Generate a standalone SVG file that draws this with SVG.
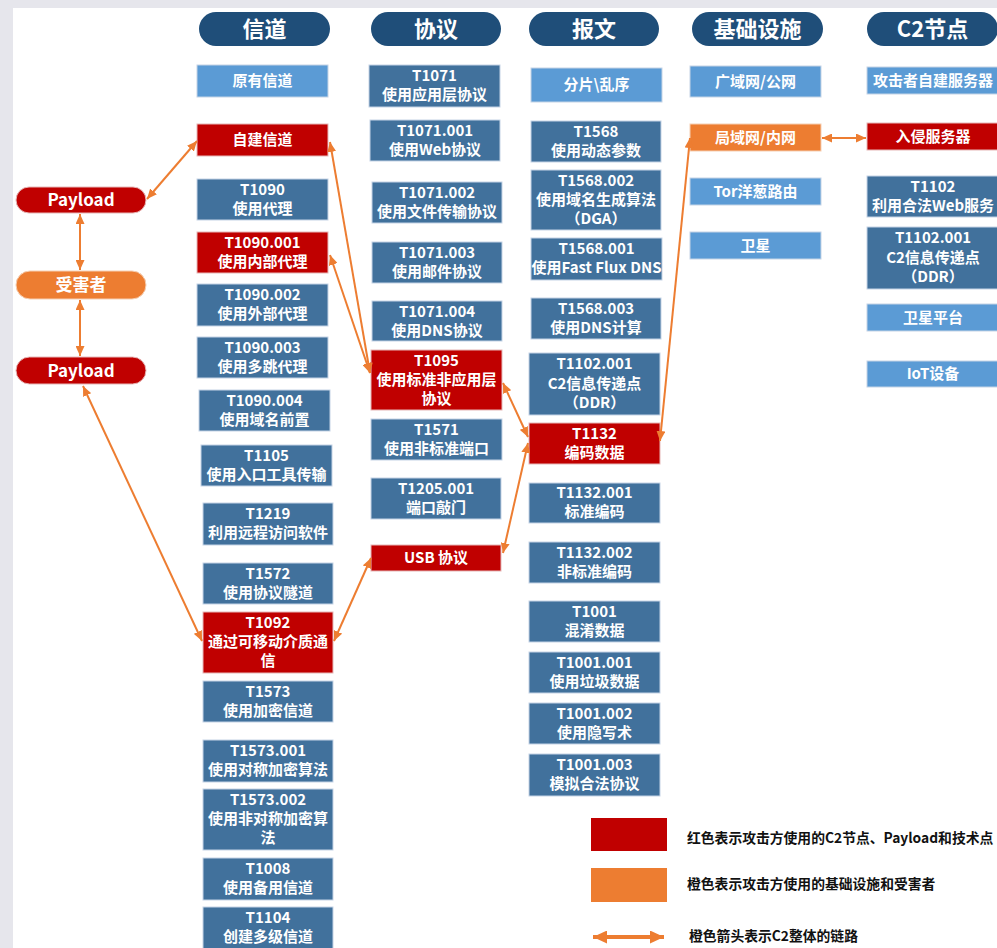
<svg xmlns="http://www.w3.org/2000/svg" width="997" height="948" viewBox="0 0 997 948">
  <style>
    .hd { fill: #1f4e79; }
    .hdt { fill: #fff; font: bold 22px "Noto Sans CJK SC", sans-serif; text-anchor: middle; }
    .dk { fill: #41719c; stroke: #c5d4e6; stroke-width: 1; }
    .lt { fill: #5b9bd5; stroke: #c5d4e6; stroke-width: 1; }
    .rd { fill: #c00000; stroke: #e6b8b8; stroke-width: 1; }
    .or { fill: #ed7d31; stroke: #f5cfb3; stroke-width: 1; }
    .t { fill: #fff; font: bold 15px "Noto Sans CJK SC", sans-serif; text-anchor: middle; }
    .pt { fill: #fff; font: bold 17px "Noto Sans CJK SC", sans-serif; text-anchor: middle; }
    .lg { fill: #111; font: bold 13.8px "Noto Sans CJK SC", sans-serif; }
    .ln { stroke: #ed7d31; stroke-width: 2; fill: none; marker-start: url(#ah); marker-end: url(#ah); }
  </style>
  <defs>
    <marker id="ah" markerUnits="userSpaceOnUse" markerWidth="10" markerHeight="9" refX="10" refY="4.5" orient="auto-start-reverse" viewBox="0 0 10 9">
      <path d="M0,0 L10,4.5 L0,9 z" fill="#ed7d31"/>
    </marker>
    <marker id="ahb" markerUnits="userSpaceOnUse" markerWidth="14" markerHeight="13" refX="14" refY="6.5" orient="auto-start-reverse" viewBox="0 0 14 13">
      <path d="M0,0 L14,6.5 L0,13 z" fill="#ed7d31"/>
    </marker>
  </defs>

  <!-- page -->
  <rect x="0" y="0" width="997" height="948" fill="#e6e6ec"/>
  <rect x="13" y="8" width="984" height="940" fill="#ffffff"/>

  <!-- column headers -->
  <g id="hdr-channel"><rect class="hd" x="199" y="12" width="131" height="34" rx="17"/><text class="hdt" x="264.5" y="37">信道</text></g>
  <g id="hdr-protocol"><rect class="hd" x="371" y="12" width="130" height="34" rx="17"/><text class="hdt" x="436" y="37">协议</text></g>
  <g id="hdr-message"><rect class="hd" x="529" y="12" width="130" height="34" rx="17"/><text class="hdt" x="594" y="37">报文</text></g>
  <g id="hdr-infra"><rect class="hd" x="692" y="12" width="131" height="34" rx="17"/><text class="hdt" x="757.5" y="37">基础设施</text></g>
  <g id="hdr-c2"><rect class="hd" x="867" y="12" width="131" height="34" rx="17"/><text class="hdt" x="932.5" y="37">C2节点</text></g>

  <!-- left chain -->
  <g id="payload-1"><rect class="rd" x="16" y="187" width="130" height="26" rx="13"/><text class="pt" x="81" y="206">Payload</text></g>
  <g id="victim"><rect class="or" x="16" y="271" width="130" height="28" rx="14"/><text class="pt" x="81" y="291">受害者</text></g>
  <g id="payload-2"><rect class="rd" x="16" y="357" width="130" height="27" rx="13.5"/><text class="pt" x="81" y="377">Payload</text></g>

  <!-- channel column -->
  <g id="ch-existing"><rect class="lt" x="197" y="65" width="131" height="32"/><text class="t" x="262.5" y="86">原有信道</text></g>
  <g id="ch-selfbuilt"><rect class="rd" x="197" y="124" width="131" height="32"/><text class="t" x="262.5" y="145">自建信道</text></g>
  <g id="T1090"><rect class="dk" x="197" y="179" width="131" height="41"/><text class="t" x="262.5" y="195">T1090</text><text class="t" x="262.5" y="214">使用代理</text></g>
  <g id="T1090-001"><rect class="rd" x="197" y="232" width="131" height="41"/><text class="t" x="262.5" y="248">T1090.001</text><text class="t" x="262.5" y="267">使用内部代理</text></g>
  <g id="T1090-002"><rect class="dk" x="197" y="284" width="131" height="42"/><text class="t" x="262.5" y="300">T1090.002</text><text class="t" x="262.5" y="319">使用外部代理</text></g>
  <g id="T1090-003"><rect class="dk" x="197" y="337" width="131" height="41"/><text class="t" x="262.5" y="353">T1090.003</text><text class="t" x="262.5" y="372">使用多跳代理</text></g>
  <g id="T1090-004"><rect class="dk" x="199" y="390" width="131" height="41"/><text class="t" x="264.5" y="406">T1090.004</text><text class="t" x="264.5" y="425">使用域名前置</text></g>
  <g id="T1105"><rect class="dk" x="201" y="445" width="131" height="41"/><text class="t" x="266.5" y="461">T1105</text><text class="t" x="266.5" y="480">使用入口工具传输</text></g>
  <g id="T1219"><rect class="dk" x="203" y="503" width="130" height="42"/><text class="t" x="268" y="519">T1219</text><text class="t" x="268" y="538">利用远程访问软件</text></g>
  <g id="T1572"><rect class="dk" x="203" y="563" width="130" height="41"/><text class="t" x="268" y="579">T1572</text><text class="t" x="268" y="598">使用协议隧道</text></g>
  <g id="T1092"><rect class="rd" x="203" y="612" width="130" height="61"/><text class="t" x="268" y="627.5">T1092</text><text class="t" x="268" y="646.5">通过可移动介质通</text><text class="t" x="268" y="665.5">信</text></g>
  <g id="T1573"><rect class="dk" x="203" y="681" width="130" height="41"/><text class="t" x="268" y="697">T1573</text><text class="t" x="268" y="716">使用加密信道</text></g>
  <g id="T1573-001"><rect class="dk" x="203" y="740" width="130" height="42"/><text class="t" x="268" y="756">T1573.001</text><text class="t" x="268" y="775">使用对称加密算法</text></g>
  <g id="T1573-002"><rect class="dk" x="203" y="789" width="130" height="61"/><text class="t" x="268" y="804.5">T1573.002</text><text class="t" x="268" y="823.5">使用非对称加密算</text><text class="t" x="268" y="842.5">法</text></g>
  <g id="T1008"><rect class="dk" x="203" y="858" width="130" height="42"/><text class="t" x="268" y="874">T1008</text><text class="t" x="268" y="893">使用备用信道</text></g>
  <g id="T1104"><rect class="dk" x="203" y="907" width="130" height="42"/><text class="t" x="268" y="923">T1104</text><text class="t" x="268" y="942">创建多级信道</text></g>

  <!-- protocol column -->
  <g id="T1071"><rect class="dk" x="369" y="65" width="131" height="42"/><text class="t" x="434.5" y="81">T1071</text><text class="t" x="434.5" y="100">使用应用层协议</text></g>
  <g id="T1071-001"><rect class="dk" x="370" y="120" width="130" height="41"/><text class="t" x="435" y="136">T1071.001</text><text class="t" x="435" y="155">使用Web协议</text></g>
  <g id="T1071-002"><rect class="dk" x="372" y="182" width="130" height="41"/><text class="t" x="437" y="198">T1071.002</text><text class="t" x="437" y="217">使用文件传输协议</text></g>
  <g id="T1071-003"><rect class="dk" x="372" y="242" width="130" height="41"/><text class="t" x="437" y="258">T1071.003</text><text class="t" x="437" y="277">使用邮件协议</text></g>
  <g id="T1071-004"><rect class="dk" x="372" y="301" width="130" height="40"/><text class="t" x="437" y="317">T1071.004</text><text class="t" x="437" y="336">使用DNS协议</text></g>
  <g id="T1095"><rect class="rd" x="371" y="350" width="131" height="60"/><text class="t" x="436.5" y="365.5">T1095</text><text class="t" x="436.5" y="384.5">使用标准非应用层</text><text class="t" x="436.5" y="403.5">协议</text></g>
  <g id="T1571"><rect class="dk" x="371" y="419" width="131" height="41"/><text class="t" x="436.5" y="435">T1571</text><text class="t" x="436.5" y="454">使用非标准端口</text></g>
  <g id="T1205-001"><rect class="dk" x="371" y="478" width="130" height="41"/><text class="t" x="436" y="494">T1205.001</text><text class="t" x="436" y="513">端口敲门</text></g>
  <g id="usb"><rect class="rd" x="371" y="545" width="130" height="26"/><text class="t" x="436" y="563">USB 协议</text></g>

  <!-- message column -->
  <g id="msg-frag"><rect class="lt" x="531" y="68" width="131" height="34"/><text class="t" x="596.5" y="90">分片\乱序</text></g>
  <g id="T1568"><rect class="dk" x="531" y="121" width="130" height="41"/><text class="t" x="596" y="137">T1568</text><text class="t" x="596" y="156">使用动态参数</text></g>
  <g id="T1568-002"><rect class="dk" x="531" y="170" width="130" height="60"/><text class="t" x="596" y="185.5">T1568.002</text><text class="t" x="596" y="204.5">使用域名生成算法</text><text class="t" x="596" y="223.5">（DGA）</text></g>
  <g id="T1568-001"><rect class="dk" x="531" y="238" width="131" height="42"/><text class="t" x="596.5" y="254">T1568.001</text><text class="t" x="596.5" y="273">使用Fast Flux DNS</text></g>
  <g id="T1568-003"><rect class="dk" x="531" y="298" width="130" height="41"/><text class="t" x="596" y="314">T1568.003</text><text class="t" x="596" y="333">使用DNS计算</text></g>
  <g id="T1102-001-msg"><rect class="dk" x="529" y="353" width="131" height="62"/><text class="t" x="594.5" y="369">T1102.001</text><text class="t" x="594.5" y="389">C2信息传递点</text><text class="t" x="594.5" y="408">（DDR）</text></g>
  <g id="T1132"><rect class="rd" x="529" y="423" width="131" height="41"/><text class="t" x="594.5" y="439">T1132</text><text class="t" x="594.5" y="458">编码数据</text></g>
  <g id="T1132-001"><rect class="dk" x="529" y="483" width="131" height="40"/><text class="t" x="594.5" y="498">T1132.001</text><text class="t" x="594.5" y="517">标准编码</text></g>
  <g id="T1132-002"><rect class="dk" x="529" y="542" width="131" height="41"/><text class="t" x="594.5" y="558">T1132.002</text><text class="t" x="594.5" y="577">非标准编码</text></g>
  <g id="T1001"><rect class="dk" x="529" y="601" width="131" height="41"/><text class="t" x="594.5" y="617">T1001</text><text class="t" x="594.5" y="636">混淆数据</text></g>
  <g id="T1001-001"><rect class="dk" x="529" y="652" width="131" height="41"/><text class="t" x="594.5" y="668">T1001.001</text><text class="t" x="594.5" y="687">使用垃圾数据</text></g>
  <g id="T1001-002"><rect class="dk" x="529" y="703" width="131" height="41"/><text class="t" x="594.5" y="719">T1001.002</text><text class="t" x="594.5" y="738">使用隐写术</text></g>
  <g id="T1001-003"><rect class="dk" x="529" y="754" width="131" height="42"/><text class="t" x="594.5" y="770">T1001.003</text><text class="t" x="594.5" y="789">模拟合法协议</text></g>

  <!-- infrastructure column -->
  <g id="inf-wan"><rect class="lt" x="690" y="66" width="131" height="31"/><text class="t" x="755.5" y="87">广域网/公网</text></g>
  <g id="inf-lan"><rect class="or" x="690" y="124" width="131" height="27"/><text class="t" x="755.5" y="143">局域网/内网</text></g>
  <g id="inf-tor"><rect class="lt" x="690" y="178" width="131" height="27"/><text class="t" x="755.5" y="197">Tor洋葱路由</text></g>
  <g id="inf-sat"><rect class="lt" x="690" y="232" width="131" height="27"/><text class="t" x="755.5" y="251">卫星</text></g>

  <!-- C2 node column -->
  <g id="c2-own"><rect class="lt" x="867" y="67" width="133" height="27"/><text class="t" x="933" y="86">攻击者自建服务器</text></g>
  <g id="c2-compromised"><rect class="rd" x="867" y="123" width="133" height="27"/><text class="t" x="933" y="142">入侵服务器</text></g>
  <g id="T1102"><rect class="dk" x="867" y="176" width="133" height="41"/><text class="t" x="933" y="192">T1102</text><text class="t" x="933" y="211">利用合法Web服务</text></g>
  <g id="T1102-001-c2"><rect class="dk" x="867" y="227" width="133" height="62"/><text class="t" x="933" y="243">T1102.001</text><text class="t" x="933" y="263">C2信息传递点</text><text class="t" x="933" y="282">（DDR）</text></g>
  <g id="c2-satellite"><rect class="lt" x="867" y="304" width="133" height="27"/><text class="t" x="933" y="323">卫星平台</text></g>
  <g id="c2-iot"><rect class="lt" x="867" y="361" width="133" height="26"/><text class="t" x="933" y="379">IoT设备</text></g>

  <!-- connectors -->
  <g id="connectors">
    <line class="ln" x1="147" y1="199" x2="197" y2="141"/>
    <line class="ln" x1="80" y1="214" x2="80" y2="270"/>
    <line class="ln" x1="80" y1="300" x2="80" y2="356"/>
    <line class="ln" x1="83" y1="386" x2="202" y2="641"/>
    <line class="ln" x1="330" y1="142" x2="370" y2="373"/>
    <line class="ln" x1="330" y1="255" x2="370" y2="373"/>
    <line class="ln" x1="503" y1="383" x2="528" y2="437"/>
    <line class="ln" x1="503" y1="553" x2="528" y2="443"/>
    <line class="ln" x1="334" y1="641" x2="371" y2="558"/>
    <line class="ln" x1="690" y1="138" x2="660" y2="441"/>
    <line class="ln" x1="822" y1="138" x2="866" y2="138"/>
  </g>

  <!-- legend -->
  <g id="legend">
    <rect x="591" y="818" width="76" height="33" fill="#c00000"/>
    <text class="lg" x="687" y="843">红色表示攻击方使用的C2节点、Payload和技术点</text>
    <rect x="591" y="868" width="76" height="34" fill="#ed7d31"/>
    <text class="lg" x="687" y="889">橙色表示攻击方使用的基础设施和受害者</text>
    <line x1="593" y1="937" x2="664" y2="937" stroke="#ed7d31" stroke-width="4" marker-start="url(#ahb)" marker-end="url(#ahb)"/>
    <text class="lg" x="689" y="941">橙色箭头表示C2整体的链路</text>
  </g>
</svg>
